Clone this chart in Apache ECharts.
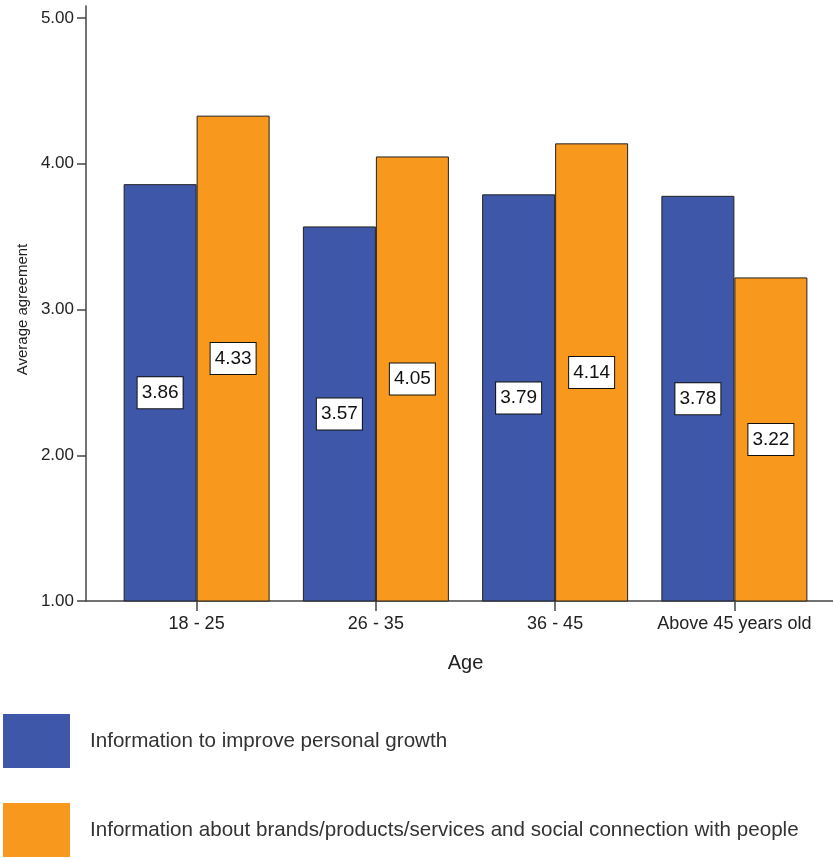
<!DOCTYPE html>
<html>
<head>
<meta charset="utf-8">
<script src="https://cdn.jsdelivr.net/npm/echarts@6/dist/echarts.min.js"></script>
<style>
    html, body { margin: 0; padding: 0; background: #fff; }
    #chart { width: 833px; height: 858px; }
</style>
</head>
<body>
<div id="chart"></div>
<script>
var ageGroups = ["18 - 25", "26 - 35", "36 - 45", "Above 45 years old"];
var seriesNames = [
    "Information to improve personal growth",
    "Information about brands/products/services and social connection with people"
];
var personalGrowth = [3.86, 3.57, 3.79, 3.78];
var brandsSocial = [4.33, 4.05, 4.14, 3.22];
var yTicks = [1, 2, 3, 4, 5];

(function () {
    var font = "Liberation Sans, Arial, sans-serif";
    var axisColor = "#444";

    function barLabel() {
        return {
            show: true,
            position: "inside",
            formatter: function (p) { return p.value.toFixed(2); },
            color: "#111",
            fontFamily: font,
            fontSize: 19,
            backgroundColor: "#fff",
            borderColor: "#111",
            borderWidth: 1,
            padding: [6, 4, 6, 4]
        };
    }

    function legendFor(name, top) {
        return {
            orient: "vertical",
            left: 3,
            top: top,
            padding: 0,
            itemWidth: 67,
            itemHeight: 54,
            icon: "rect",
            itemStyle: { borderWidth: 0 },
            textStyle: { color: "#333", fontFamily: font, fontSize: 20.6, padding: [0, 0, 0, 15] },
            data: [name]
        };
    }

    var option = {
        animation: false,
        backgroundColor: "#fff",
        grid: [
            { left: 107, right: 9, top: 18, bottom: 257 },
            { left: 86, right: 0, top: 6, bottom: 257 }
        ],
        xAxis: [
            {
                type: "category",
                gridIndex: 0,
                data: ageGroups,
                axisLine: { show: false },
                axisTick: { show: true, interval: 0, alignWithLabel: true, length: 10, lineStyle: { color: axisColor, width: 1.5 } },
                axisLabel: { interval: 0, color: "#222", fontFamily: font, fontSize: 18, margin: 14 },
                name: "Age",
                nameLocation: "middle",
                nameGap: 52,
                nameTextStyle: { color: "#222", fontFamily: font, fontSize: 20 }
            },
            {
                type: "value",
                gridIndex: 1,
                min: 0,
                max: 1,
                axisLine: { show: true, lineStyle: { color: axisColor, width: 1.5 } },
                axisTick: { show: false },
                axisLabel: { show: false },
                splitLine: { show: false }
            }
        ],
        yAxis: [
            {
                type: "value",
                gridIndex: 0,
                min: yTicks[0],
                max: yTicks[yTicks.length - 1],
                interval: 1,
                offset: 21,
                axisLine: { show: false },
                axisTick: { show: true, length: 9, lineStyle: { color: axisColor, width: 1.5 } },
                axisLabel: {
                    color: "#222", fontFamily: font, fontSize: 17, margin: 12,
                    formatter: function (v) { return v.toFixed(2); }
                },
                splitLine: { show: false },
                name: "Average agreement",
                nameLocation: "middle",
                nameGap: 45,
                nameTextStyle: { color: "#222", fontFamily: font, fontSize: 15 }
            },
            {
                type: "value",
                gridIndex: 1,
                min: 0,
                max: 1,
                axisLine: { show: true, lineStyle: { color: axisColor, width: 1.5 } },
                axisTick: { show: false },
                axisLabel: { show: false },
                splitLine: { show: false }
            }
        ],
        legend: [
            legendFor(seriesNames[0], 714),
            legendFor(seriesNames[1], 803)
        ],
        series: [
            {
                name: seriesNames[0],
                type: "bar",
                xAxisIndex: 0,
                yAxisIndex: 0,
                data: personalGrowth,
                barWidth: 73,
                barGap: "0%",
                itemStyle: { color: "#3e57a9", borderColor: "#222", borderWidth: 1 },
                label: barLabel()
            },
            {
                name: seriesNames[1],
                type: "bar",
                xAxisIndex: 0,
                yAxisIndex: 0,
                data: brandsSocial,
                barWidth: 73,
                barGap: "0%",
                itemStyle: { color: "#f8991e", borderColor: "#222", borderWidth: 1 },
                label: barLabel()
            }
        ]
    };

    var myChart = echarts.init(document.getElementById("chart"));
    myChart.setOption(option);
})();
</script>
</body>
</html>
